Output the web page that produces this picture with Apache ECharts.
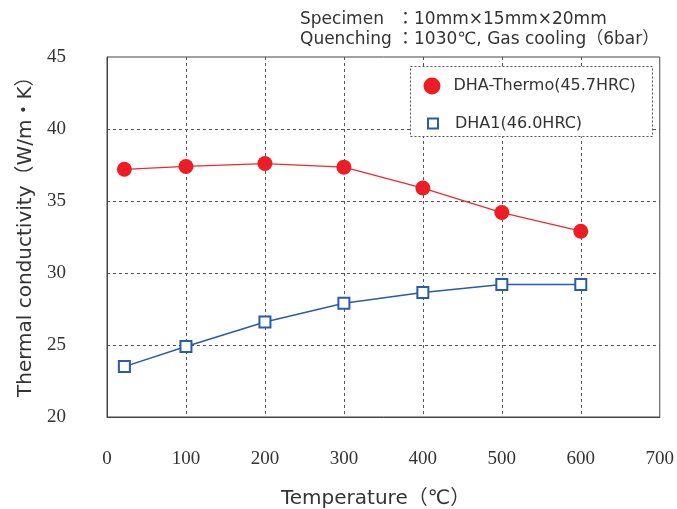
<!DOCTYPE html>
<html>
<head>
<meta charset="utf-8">
<script src="https://cdn.jsdelivr.net/npm/echarts@6/dist/echarts.min.js"></script>
<style>html,body{margin:0;padding:0;background:#fff;}#c{width:677px;height:509px;}</style>
</head>
<body>
<div id="c"></div>
<script>
const temperatures = [22, 100, 200, 300, 400, 500, 600];
const dhaThermo = [37.2, 37.4, 37.6, 37.35, 35.9, 34.2, 32.9];
const dha1 = [23.5, 24.9, 26.6, 27.9, 28.65, 29.2, 29.2];
const seriesNames = ['DHA-Thermo(45.7HRC)', 'DHA1(46.0HRC)'];
const xTicks = [0, 100, 200, 300, 400, 500, 600, 700];
const yTicks = [20, 25, 30, 35, 40, 45];

const sans = '"DejaVu Sans", "Noto Sans CJK JP", sans-serif';
const serif = '"Liberation Serif", "DejaVu Serif", serif';
const zip = (xs, ys) => xs.map((x, i) => [x, ys[i]]);

const chart = echarts.init(document.getElementById('c'), null, {renderer: 'canvas'});
chart.setOption({
  animation: false,
  backgroundColor: '#fff',
  grid: {left: 107, right: 16, top: 57, bottom: 92, show: true, borderColor: '#444', borderWidth: 1, backgroundColor: 'transparent'},
  xAxis: {
    type: 'value', min: xTicks[0], max: xTicks[xTicks.length - 1], interval: 100,
    axisLine: {show: true, lineStyle: {color: '#444'}},
    axisTick: {show: false},
    axisLabel: {margin: 33, color: '#333', fontFamily: serif, fontSize: 19},
    splitLine: {show: true, showMinLine: false, showMaxLine: false, lineStyle: {color: '#555', type: [3, 3], width: 1}}
  },
  yAxis: {
    type: 'value', min: yTicks[0], max: yTicks[yTicks.length - 1], interval: 5,
    axisLine: {show: true, lineStyle: {color: '#444'}},
    axisTick: {show: false},
    axisLabel: {margin: 41, color: '#333', fontFamily: serif, fontSize: 19},
    splitLine: {show: true, showMinLine: false, showMaxLine: false, lineStyle: {color: '#555', type: [3, 3], width: 1}}
  },
  legend: [
    {
      data: [{name: seriesNames[0], icon: 'circle'}],
      left: 423.5, top: 77.5, padding: 0, itemWidth: 17, itemHeight: 17, z: 10,
      textStyle: {color: '#333', fontFamily: sans, fontSize: 16, padding: [0, 0, 0, 8]}
    },
    {
      data: [{name: seriesNames[1], icon: 'rect'}],
      left: 427, top: 115.5, padding: 0, itemWidth: 10, itemHeight: 10, z: 10,
      textStyle: {color: '#333', fontFamily: sans, fontSize: 16, padding: [0, 0, 0, 12]}
    }
  ],
  graphic: [
    {type: 'rect', z: 5, shape: {x: 410.5, y: 66.5, width: 242, height: 70},
     style: {fill: '#fff', stroke: '#555', lineWidth: 1, lineDash: [2, 2]}},
    {type: 'text', x: 300, y: 20, z: 5, style: {text: 'Specimen', fill: '#333', font: '17px ' + sans, textAlign: 'left', textVerticalAlign: 'middle'}},
    {type: 'text', x: 397, y: 20, z: 5, style: {text: '：10mm×15mm×20mm', fill: '#333', font: '17px ' + sans, textAlign: 'left', textVerticalAlign: 'middle'}},
    {type: 'text', x: 300, y: 40, z: 5, style: {text: 'Quenching', fill: '#333', font: '17px ' + sans, textAlign: 'left', textVerticalAlign: 'middle'}},
    {type: 'text', x: 397, y: 40, z: 5, style: {text: '：1030℃, Gas cooling（6bar）', fill: '#333', font: '17px ' + sans, textAlign: 'left', textVerticalAlign: 'middle'}},
    {type: 'text', x: 281, y: 499, z: 5, style: {text: 'Temperature（℃）', fill: '#333', font: '20px ' + sans, textAlign: 'left', textVerticalAlign: 'middle'}},
    {type: 'text', x: 26, y: 397, rotation: Math.PI / 2, z: 5, style: {text: 'Thermal conductivity（W/m・K）', fill: '#333', font: '20px ' + sans, textAlign: 'left', textVerticalAlign: 'middle'}}
  ],
  series: [
    {
      name: seriesNames[0], type: 'line', data: zip(temperatures, dhaThermo),
      symbol: 'circle', symbolSize: 15, z: 3,
      itemStyle: {color: '#ee1c25'},
      lineStyle: {color: '#ee2a30', width: 1.3}
    },
    {
      name: seriesNames[1], type: 'line', data: zip(temperatures, dha1),
      symbol: 'rect', symbolSize: 11, z: 3,
      itemStyle: {color: '#fff', borderColor: '#2a5aa8', borderWidth: 2},
      lineStyle: {color: '#2a5aa8', width: 1.5}
    }
  ]
});
</script>
</body>
</html>
